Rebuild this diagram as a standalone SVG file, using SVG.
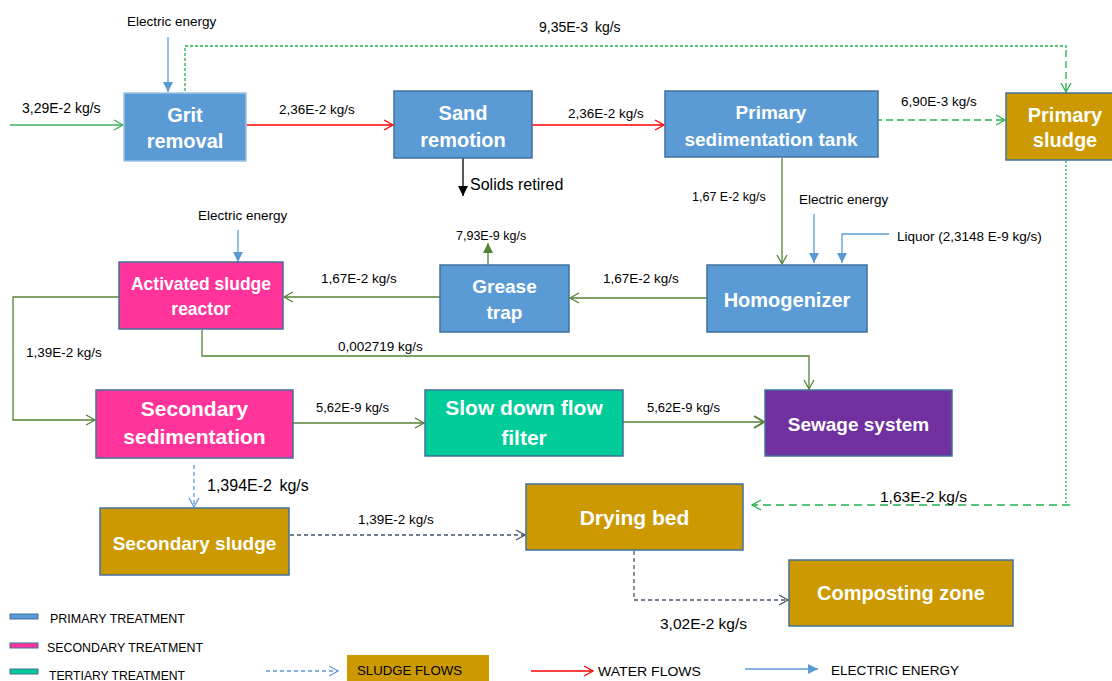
<svg xmlns="http://www.w3.org/2000/svg" width="1112" height="681" viewBox="0 0 1112 681">
<style>
.n rect{stroke:#41719C;stroke-width:1.5}
.nt{font-family:"Liberation Sans",Arial,sans-serif;font-weight:bold;fill:#fff;text-anchor:middle}
.lb{font-family:"Liberation Sans",Arial,sans-serif;fill:#000}
.lg{font-family:"Liberation Sans",Arial,sans-serif;font-size:13px;fill:#000}
.prim{fill:#5B9BD5}.sec{fill:#FF3399}.ter{fill:#00CC99}.sew{fill:#7030A0}.sl{fill:#CC9900}
.c{fill:none;stroke-width:1.3}
.g{stroke:#3BB25B}.r{stroke:#FF0000}.dg{stroke:#548235}.dgr{stroke:#22B14C}.b{stroke:#5B9BD5}.gb{stroke:#44546A}.k{stroke:#000}
</style>
<defs>
<marker id="oG" markerUnits="userSpaceOnUse" markerWidth="12" markerHeight="12" refX="9" refY="5" orient="auto" viewBox="-1 -1 12 12"><path d="M0,0 L9,5 L0,10" fill="none" stroke="#3BB25B" stroke-width="1.3"/></marker>
<marker id="oR" markerUnits="userSpaceOnUse" markerWidth="12" markerHeight="12" refX="9" refY="5" orient="auto" viewBox="-1 -1 12 12"><path d="M0,0 L9,5 L0,10" fill="none" stroke="#FF0000" stroke-width="1.3"/></marker>
<marker id="oDG" markerUnits="userSpaceOnUse" markerWidth="12" markerHeight="12" refX="9" refY="5" orient="auto" viewBox="-1 -1 12 12"><path d="M0,0 L9,5 L0,10" fill="none" stroke="#548235" stroke-width="1.3"/></marker>
<marker id="oDG2" markerUnits="userSpaceOnUse" markerWidth="14" markerHeight="14" refX="10" refY="6" orient="auto" viewBox="-1 -1 14 14"><path d="M0,0 L10,6 L0,12" fill="none" stroke="#548235" stroke-width="2"/></marker>
<marker id="oDGr" markerUnits="userSpaceOnUse" markerWidth="12" markerHeight="12" refX="9" refY="5" orient="auto" viewBox="-1 -1 12 12"><path d="M0,0 L9,5 L0,10" fill="none" stroke="#22B14C" stroke-width="1.3"/></marker>
<marker id="oB" markerUnits="userSpaceOnUse" markerWidth="12" markerHeight="12" refX="9" refY="5" orient="auto" viewBox="-1 -1 12 12"><path d="M0,0 L9,5 L0,10" fill="none" stroke="#5B9BD5" stroke-width="1.3"/></marker>
<marker id="oGB" markerUnits="userSpaceOnUse" markerWidth="12" markerHeight="12" refX="9" refY="5" orient="auto" viewBox="-1 -1 12 12"><path d="M0,0 L9,5 L0,10" fill="none" stroke="#44546A" stroke-width="1.3"/></marker>
<marker id="fB" markerUnits="userSpaceOnUse" markerWidth="10" markerHeight="10" refX="8" refY="4" orient="auto" viewBox="0 0 8 8"><path d="M0,0 L8,4 L0,8 Z" fill="#5B9BD5"/></marker>
<marker id="fK" markerUnits="userSpaceOnUse" markerWidth="10" markerHeight="10" refX="8" refY="4" orient="auto" viewBox="0 0 8 8"><path d="M0,0 L8,4 L0,8 Z" fill="#000"/></marker>
<marker id="fDG" markerUnits="userSpaceOnUse" markerWidth="10" markerHeight="10" refX="8" refY="4" orient="auto" viewBox="0 0 8 8"><path d="M0,0 L8,4 L0,8 Z" fill="#548235"/></marker>
</defs>
<rect width="1112" height="681" fill="#fff"/>

<g id="connectors">
<path class="c g" d="M10,125 H123" marker-end="url(#oG)"/>
<path class="c r" d="M246,125 H393" marker-end="url(#oR)"/>
<path class="c r" d="M532,125 H664" marker-end="url(#oR)"/>
<path class="c b" d="M168,37 V92" marker-end="url(#fB)"/>
<path class="c dgr" d="M185,91 V46 H1066 V50" stroke-dasharray="3,2"/>
<path class="c dgr" d="M1066,50 V92" stroke-dasharray="7,4" marker-end="url(#oDGr)"/>
<path class="c dgr" d="M864,120 H1005" stroke-dasharray="7,4" marker-end="url(#oDGr)"/>
<path class="c dgr" d="M1066,161 V505" stroke-dasharray="2,2"/>
<path class="c dgr" d="M1070,505 H752" stroke-dasharray="8,5" marker-end="url(#oDGr)"/>
<path class="c dg" d="M782,158 V264" marker-end="url(#oDG)"/>
<path class="c b" d="M814,214 V263" marker-end="url(#fB)"/>
<path class="c b" d="M889,234 H842 V263" marker-end="url(#fB)"/>
<path class="c dg" d="M707,298 H570" marker-end="url(#oDG)"/>
<path class="c dg" d="M488,265 V243" marker-end="url(#fDG)"/>
<path class="c dg" d="M440,297 H284" marker-end="url(#oDG)"/>
<path class="c b" d="M238,230 V262" marker-end="url(#fB)"/>
<path class="c dg" d="M119,297 H13 V420 H95" marker-end="url(#oDG)"/>
<path class="c dg" d="M202,330 V356 H809 V389" marker-end="url(#oDG)"/>
<path class="c dg" d="M293,423 H424" marker-end="url(#oDG)"/>
<path class="c dg" d="M623,422 H764" stroke-width="2" marker-end="url(#oDG2)"/>
<path class="c b" d="M194,465 V507" stroke-dasharray="4,3" marker-end="url(#oB)"/>
<path class="c gb" d="M290,535 H525" stroke-dasharray="4,3" marker-end="url(#oGB)"/>
<path class="c gb" d="M634,551 V600 H788" stroke-dasharray="4,3" marker-end="url(#oGB)"/>
<path class="c k" d="M463,158 V196" marker-end="url(#fK)"/>

<text class="lb" x="22" y="113" style="font-size:14px">3,29E-2 kg/s</text>
<text class="lb" x="279" y="114" style="font-size:13.5px">2,36E-2 kg/s</text>
<text class="lb" x="568" y="118" style="font-size:13.5px">2,36E-2 kg/s</text>
<text class="lb" x="127" y="26" style="font-size:13.5px">Electric energy</text>
<text class="lb" x="539" y="32" style="font-size:14px;word-spacing:3px">9,35E-3 kg/s</text>
<text class="lb" x="901" y="106" style="font-size:13.5px">6,90E-3 kg/s</text>
<text class="lb" x="470" y="190" style="font-size:16px">Solids retired</text>
<text class="lb" x="692" y="201" style="font-size:12.5px">1,67 E-2 kg/s</text>
<text class="lb" x="799" y="204" style="font-size:13.5px">Electric energy</text>
<text class="lb" x="897" y="241" style="font-size:13.5px">Liquor (2,3148 E-9 kg/s)</text>
<text class="lb" x="456" y="240" style="font-size:12.5px">7,93E-9 kg/s</text>
<text class="lb" x="603" y="283" style="font-size:13.5px">1,67E-2 kg/s</text>
<text class="lb" x="198" y="220" style="font-size:13.5px">Electric energy</text>
<text class="lb" x="321" y="283" style="font-size:13.5px">1,67E-2 kg/s</text>
<text class="lb" x="26" y="357" style="font-size:13.5px">1,39E-2 kg/s</text>
<text class="lb" x="338" y="351" style="font-size:13.5px">0,002719 kg/s</text>
<text class="lb" x="316" y="412" style="font-size:13px">5,62E-9 kg/s</text>
<text class="lb" x="647" y="412" style="font-size:13px">5,62E-9 kg/s</text>
<text class="lb" x="207" y="491" style="font-size:16px;word-spacing:3px">1,394E-2 kg/s</text>
<text class="lb" x="358" y="524" style="font-size:13.5px">1,39E-2 kg/s</text>
<text class="lb" x="880" y="502" style="font-size:15.5px">1,63E-2 kg/s</text>
<text class="lb" x="660" y="629" style="font-size:15.5px">3,02E-2 kg/s</text>
</g>

<g id="grit" class="n"><rect x="124" y="93" width="122" height="68" class="prim" style="stroke:#9DC3E6"/><text class="nt" font-size="20"><tspan x="185" y="122">Grit</tspan><tspan x="185" y="148">removal</tspan></text></g>
<g id="sand" class="n"><rect x="394" y="91" width="138" height="67" class="prim"/><text class="nt" font-size="20"><tspan x="463" y="120">Sand</tspan><tspan x="463" y="147">remotion</tspan></text></g>
<g id="primsed" class="n"><rect x="665" y="91" width="213" height="66" class="prim"/><text class="nt" font-size="19"><tspan x="771" y="119">Primary</tspan><tspan x="771" y="146">sedimentation tank</tspan></text></g>
<g id="primsludge" class="n"><rect x="1006" y="93" width="110" height="67" class="sl"/><text class="nt" font-size="20"><tspan x="1065" y="122">Primary</tspan><tspan x="1065" y="147">sludge</tspan></text></g>
<g id="homog" class="n"><rect x="707" y="265" width="160" height="67" class="prim"/><text class="nt" font-size="20" x="787" y="307">Homogenizer</text></g>
<g id="grease" class="n"><rect x="440" y="265" width="129" height="67" class="prim"/><text class="nt" font-size="19"><tspan x="504.5" y="293">Grease</tspan><tspan x="504.5" y="319">trap</tspan></text></g>
<g id="activated" class="n"><rect x="119" y="262" width="164" height="67" class="sec"/><text class="nt" font-size="17.5"><tspan x="201" y="290">Activated sludge</tspan><tspan x="201" y="315">reactor</tspan></text></g>
<g id="secsed" class="n"><rect x="96" y="390" width="197" height="68" class="sec"/><text class="nt" font-size="21"><tspan x="194.5" y="416">Secondary</tspan><tspan x="194.5" y="444">sedimentation</tspan></text></g>
<g id="slowfilter" class="n"><rect x="425" y="390" width="198" height="66" class="ter"/><text class="nt" font-size="21"><tspan x="524" y="415">Slow down flow</tspan><tspan x="524" y="445">filter</tspan></text></g>
<g id="sewage" class="n"><rect x="765" y="390" width="187" height="66" class="sew"/><text class="nt" font-size="19" x="858.5" y="431">Sewage system</text></g>
<g id="secsludge" class="n"><rect x="100" y="508" width="189" height="67" class="sl"/><text class="nt" font-size="19" x="194.5" y="550">Secondary sludge</text></g>
<g id="drying" class="n"><rect x="526" y="484" width="217" height="66" class="sl"/><text class="nt" font-size="21" x="634.5" y="525">Drying bed</text></g>
<g id="composting" class="n"><rect x="789" y="560" width="224" height="66" class="sl"/><text class="nt" font-size="20" x="901" y="600">Composting zone</text></g>

<g id="legend">
<rect x="10" y="614" width="28" height="5" class="prim" stroke="#41719C"/>
<text class="lg" x="50" y="623" textLength="135" lengthAdjust="spacingAndGlyphs">PRIMARY TREATMENT</text>
<rect x="10" y="643" width="28" height="5" class="sec" stroke="#41719C"/>
<text class="lg" x="47" y="652" textLength="156" lengthAdjust="spacingAndGlyphs">SECONDARY TREATMENT</text>
<rect x="10" y="669" width="28" height="5" class="ter" stroke="#41719C"/>
<text class="lg" x="49" y="680" textLength="136" lengthAdjust="spacingAndGlyphs">TERTIARY TREATMENT</text>
<path class="c b" d="M266,671 H338" stroke-dasharray="4,3" marker-end="url(#oB)"/>
<rect x="347" y="655" width="142" height="26" class="sl"/>
<text class="lg" x="357" y="675" textLength="105" lengthAdjust="spacingAndGlyphs">SLUDGE FLOWS</text>
<path class="c r" d="M531,671 H593" marker-end="url(#oR)"/>
<text class="lg" x="598" y="676" textLength="103" lengthAdjust="spacingAndGlyphs">WATER FLOWS</text>
<path class="c b" d="M745,669 H818" marker-end="url(#fB)"/>
<text class="lg" x="831" y="675" textLength="128" lengthAdjust="spacingAndGlyphs">ELECTRIC ENERGY</text>
</g>
</svg>
